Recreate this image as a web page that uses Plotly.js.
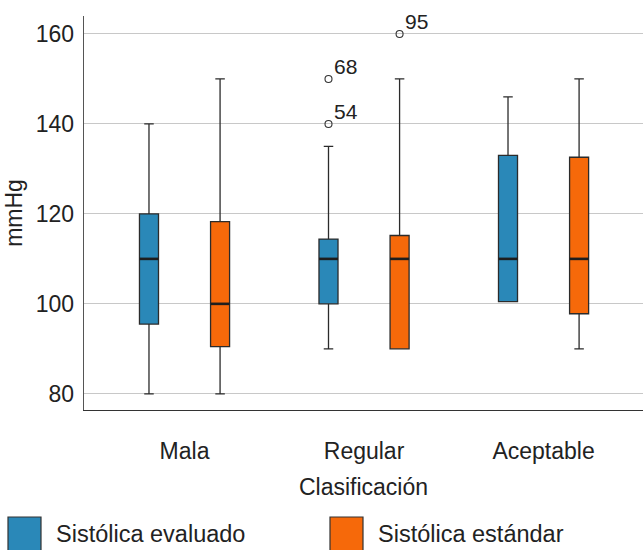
<!DOCTYPE html>
<html>
<head>
<meta charset="utf-8">
<script src="https://cdn.plot.ly/plotly-3.0.1.min.js"></script>
<style>html,body{margin:0;padding:0;background:#fff}#chart{width:643px;height:550px}</style>
</head>
<body>
<div id="chart"></div>
<script>
var categories = ["Mala", "Regular", "Aceptable"];
var seriesNames = ["Sistólica evaluado", "Sistólica estándar"];

// Sistólica evaluado
var evalLower  = [80, 90, 100.5];
var evalQ1     = [95.5, 100, 100.5];
var evalMedian = [110, 110, 110];
var evalQ3     = [120, 114.4, 133];
var evalUpper  = [140, 135, 146];

// Sistólica estándar
var stdLower  = [80, 90, 90];
var stdQ1     = [90.5, 90, 97.8];
var stdMedian = [100, 110, 110];
var stdQ3     = [118.3, 115.2, 132.6];
var stdUpper  = [150, 150, 150];

// outliers: category index, series index, value, case label
var outCat    = [1, 1, 1];
var outSeries = [0, 0, 1];
var outValue  = [150, 140, 160];
var outLabel  = ["68", "54", "95"];

var colors = ["#2a88b8", "#f6690a"];
var offsets = [-0.198, 0.198];
var boxW = 0.106;
var FONT = "Liberation Sans, Arial, sans-serif";
var FS = 23;
var idx = categories.map(function(_, i){ return i; });

function boxTrace(s, lo, q1, med, q3, up){
  return {
    type: "box",
    name: seriesNames[s],
    x: idx.map(function(i){ return i + offsets[s]; }),
    lowerfence: lo, q1: q1, median: med, q3: q3, upperfence: up,
    width: boxW,
    whiskerwidth: 0.5,
    fillcolor: colors[s],
    line: {color: "#2b2b2b", width: 1.3},
    boxpoints: false,
    showlegend: false,
    hoverinfo: "skip"
  };
}

function medianTrace(s, med){
  var xs = [], ys = [];
  idx.forEach(function(i){
    var c = i + offsets[s];
    xs.push(c - boxW / 2, c + boxW / 2, null);
    ys.push(med[i], med[i], null);
  });
  return {type: "scatter", mode: "lines", x: xs, y: ys,
    line: {color: "#1e1e1e", width: 2.6}, showlegend: false, hoverinfo: "skip"};
}

var outX = outCat.map(function(c, k){ return c + offsets[outSeries[k]]; });

var traces = [
  boxTrace(0, evalLower, evalQ1, evalMedian, evalQ3, evalUpper),
  boxTrace(1, stdLower, stdQ1, stdMedian, stdQ3, stdUpper),
  medianTrace(0, evalMedian),
  medianTrace(1, stdMedian),
  {
    type: "scatter",
    mode: "markers",
    x: outX,
    y: outValue,
    marker: {symbol: "circle-open", size: 7, color: "#333", line: {width: 1.1, color: "#333"}},
    showlegend: false,
    hoverinfo: "skip",
    cliponaxis: false
  }
];

function px2paperX(px){ return (px - 84) / 559; }
function px2paperY(py){ return (410 - py) / 394; }

var shapes = [], annotations = [];
outLabel.forEach(function(lbl, k){
  annotations.push({
    xref: "x", yref: "y", x: outX[k], y: outValue[k],
    xanchor: "left", yanchor: "middle", xshift: 3, yshift: 12,
    text: lbl, showarrow: false,
    font: {family: FONT, size: 21, color: "#222"}
  });
});

var sqLeft = [8, 330], txtLeft = [54, 376];
for (var s = 0; s < 2; s++){
  shapes.push({
    type: "rect", xref: "paper", yref: "paper",
    x0: px2paperX(sqLeft[s]), x1: px2paperX(sqLeft[s] + 33),
    y0: px2paperY(517), y1: px2paperY(552),
    fillcolor: colors[s], line: {color: "#333", width: 1.2}
  });
  annotations.push({
    xref: "paper", yref: "paper",
    x: px2paperX(txtLeft[s]), y: px2paperY(534),
    xanchor: "left", yanchor: "middle",
    text: seriesNames[s], showarrow: false,
    font: {family: FONT, size: 23.5, color: "#222"}
  });
}

var layout = {
  width: 643, height: 550,
  margin: {l: 84, r: 0, t: 16, b: 140, pad: 0},
  paper_bgcolor: "#fff", plot_bgcolor: "#fff",
  font: {family: FONT, size: FS, color: "#222"},
  showlegend: false,
  xaxis: {
    range: [-0.56, 2.554],
    tickvals: idx, ticktext: categories,
    tickfont: {family: FONT, size: FS, color: "#222"},
    showgrid: false, zeroline: false,
    showline: true, linecolor: "#333", linewidth: 1.3,
    ticks: "", ticklabelstandoff: 20,
    title: {text: "Clasificación", standoff: 16, font: {family: FONT, size: FS, color: "#222"}}
  },
  yaxis: {
    range: [76.4, 164],
    tickvals: [80, 100, 120, 140, 160],
    tickfont: {family: FONT, size: FS, color: "#222"},
    showgrid: true, gridcolor: "#c8c8c8", gridwidth: 1,
    zeroline: false,
    showline: true, linecolor: "#555", linewidth: 1.3,
    ticks: "", ticklabelstandoff: 4,
    title: {text: "mmHg", standoff: 6, font: {family: FONT, size: FS, color: "#222"}}
  },
  shapes: shapes,
  annotations: annotations
};

Plotly.newPlot("chart", traces, layout, {staticPlot: true, displayModeBar: false});
</script>
</body>
</html>
